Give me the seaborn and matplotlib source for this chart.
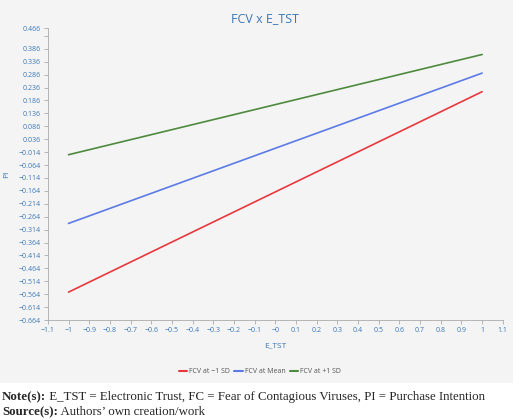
import matplotlib
matplotlib.use("Agg")
import matplotlib.pyplot as plt
import seaborn as sns
import pandas as pd
import numpy as np

x_vals = [-1, 1]
red_vals = [-0.556, 0.220]
blue_vals = [-0.290, 0.292]
green_vals = [-0.024, 0.364]
series = ["FCV at \u22121 SD", "FCV at Mean", "FCV at +1 SD"]
colors = ["#e8383d", "#5b7be6", "#4e8a3e"]

df = pd.DataFrame({
    "E_TST": x_vals * 3,
    "PI": red_vals + blue_vals + green_vals,
    "series": [series[0]] * 2 + [series[1]] * 2 + [series[2]] * 2,
})

sns.set_theme(style="white")
plt.rcParams['font.family'] = ['Open Sans', 'DejaVu Sans']
tc = "#3a78b8"
fig = plt.figure(figsize=(5.2, 4.2), dpi=100)
bg = fig.add_axes([0, 0.088, 0.987, 0.912], zorder=-10)
bg.set_facecolor("#f4f4f4")
bg.set_xticks([]); bg.set_yticks([])
for s in bg.spines.values():
    s.set_visible(False)
ax = fig.add_axes([0.092, 0.238, 0.875, 0.695])
ax.set_facecolor("#f4f4f4")
sns.lineplot(data=df, x="E_TST", y="PI", hue="series", palette=colors, ax=ax, linewidth=1.2, legend=False)
ax.set_xlim(-1.1, 1.1)
ax.set_ylim(-0.664, 0.466)
xt = np.round(np.arange(-1.1, 1.11, 0.1), 1)
ax.set_xticks(xt)
xl = []
for v in xt:
    s = f"{abs(v):g}"
    xl.append(("\u2212" + s) if v < -1e-9 else s)
xl[11] = "\u22120"
ax.set_xticklabels(xl, fontsize=5, color=tc)
yt = list(np.round(np.arange(-0.664, 0.39, 0.05), 3)) + [0.466]
ax.set_yticks(yt)
ax.set_yticklabels([("\u2212" + f"{abs(v):.3f}") if v < 0 else f"{v:.3f}" for v in yt], fontsize=5, color=tc)
ax.set_yticks([0.436], minor=True)
ax.tick_params(axis="both", which="both", length=3, color="#aaaaaa", width=0.6, pad=2, left=True, bottom=True)
for s in ["top", "right"]:
    ax.spines[s].set_visible(False)
for s in ["left", "bottom"]:
    ax.spines[s].set_color("#aaaaaa")
    ax.spines[s].set_linewidth(0.6)
ax.set_xlabel("E_TST", fontsize=6, color=tc, labelpad=6)
ax.set_ylabel("PI", fontsize=6, color=tc, labelpad=6)
fig.text(0.51, 0.955, "FCV x E_TST", ha="center", va="center", fontsize=9, color=tc)
handles = [plt.Line2D([], [], color=c, lw=1.5) for c in colors]
fig.legend(handles, series, loc="center", bbox_to_anchor=(0.5, 0.115), ncol=3, frameon=False,
           fontsize=5, labelcolor="#555555", handlelength=1.2, handletextpad=0.3, columnspacing=0.6)

fig.canvas.draw()
r = fig.canvas.get_renderer()
for y, b, rest in [(0.055, "Note(s):", " E_TST = Electronic Trust, FC = Fear of Contagious Viruses, PI = Purchase Intention"),
                   (0.018, "Source(s):", " Authors’ own creation/work")]:
    t = fig.text(0.004, y, b, fontsize=9.3, family="Liberation Serif", weight="bold", va="center")
    w = t.get_window_extent(r).width / fig.bbox.width
    fig.text(0.004 + w, y, rest, fontsize=9.3, family="Liberation Serif", va="center")
fig.savefig("out.png", dpi=100)
